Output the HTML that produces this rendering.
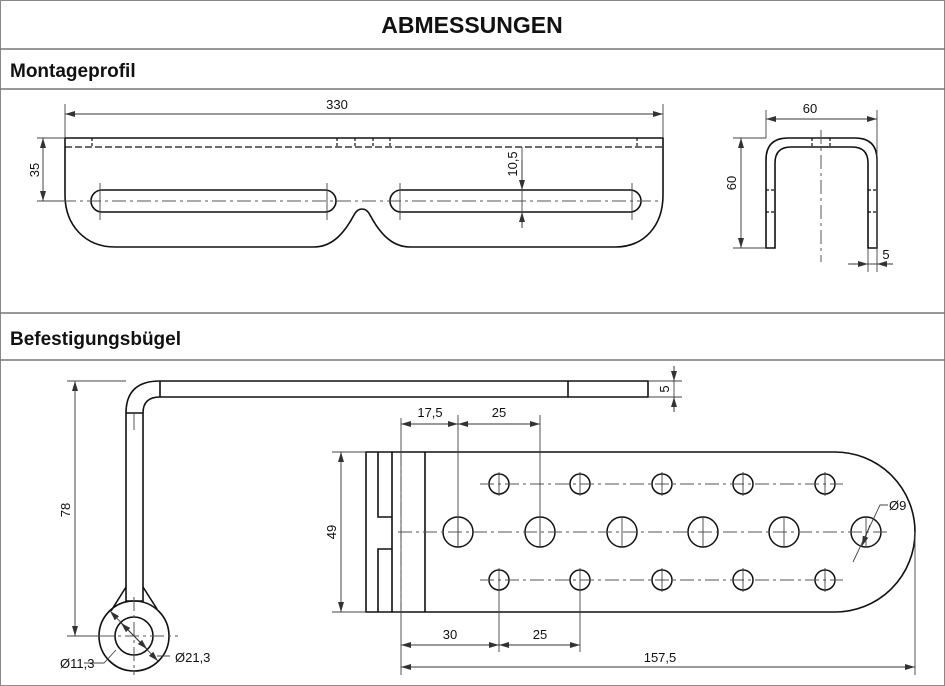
<!DOCTYPE html>
<html><head><meta charset="utf-8"><style>
html,body{margin:0;padding:0;background:#fff}
svg{display:block}
text{font-family:"Liberation Sans",sans-serif}
</style></head><body>
<svg width="945" height="686" viewBox="0 0 945 686" xmlns="http://www.w3.org/2000/svg">
<defs>
<marker id="a" viewBox="0 0 10 6" refX="10" refY="3" markerWidth="10" markerHeight="6" orient="auto-start-reverse" markerUnits="userSpaceOnUse"><path d="M0,0L10,3L0,6z" fill="#333"/></marker>
</defs>
<rect x="0.5" y="0.5" width="944" height="685" fill="#fff" stroke="#888"/>
<g stroke="#777" stroke-width="1.5"><line x1="0" y1="49" x2="945" y2="49"/><line x1="0" y1="89" x2="945" y2="89"/><line x1="0" y1="313" x2="945" y2="313"/><line x1="0" y1="360" x2="945" y2="360"/></g>
<text x="472" y="33" font-size="23" font-weight="bold" text-anchor="middle" fill="#111">ABMESSUNGEN</text>
<text x="10" y="77" font-size="19" font-weight="bold" fill="#111">Montageprofil</text>
<text x="10" y="345" font-size="19" font-weight="bold" fill="#111">Befestigungsbügel</text>

<g fill="none" stroke="#111" stroke-width="1.6">
<!-- Montageprofil -->
<path d="M65,138 H663 V195 C663,225 645,247 615,247 H410 C390,247 378,230 370,215 C366,207 358,207 354,215 C346,230 334,247 314,247 H115 C85,247 65,225 65,195 Z"/>
<rect x="91" y="190" width="245" height="22" rx="11"/>
<rect x="390" y="190" width="251" height="22" rx="11"/>
<!-- U profile -->
<path d="M766,248 V160 Q766,138 788,138 H855 Q877,138 877,160 V248 H868 V163 Q868,147 852,147 H791 Q775,147 775,163 V248 Z"/>
<!-- bügel -->
<path d="M648,381 H160 Q126,381 126,413 V601 H143 V413 Q143,397 160,397 H648 Z"/>
<line x1="160" y1="381" x2="160" y2="397"/><line x1="126" y1="413" x2="143" y2="413"/><line x1="568" y1="381" x2="568" y2="397"/>
<path d="M126,587 L111,611 M143,587 L157,609"/>
<circle cx="134" cy="636" r="35"/><circle cx="134" cy="636" r="19"/>
<!-- plate -->
<path d="M366,452 H835 A80,80 0 0 1 835,612 H366 Z"/>
<path d="M378,452 V517 H392 M378,612 V549 H392 M392,452 V612 M425,452 V612"/>
<g stroke-width="1.5">
<circle cx="458" cy="532" r="15"/><circle cx="540" cy="532" r="15"/><circle cx="622" cy="532" r="15"/><circle cx="703" cy="532" r="15"/><circle cx="784" cy="532" r="15"/><circle cx="866" cy="532" r="15"/>
<circle cx="499" cy="484" r="10"/><circle cx="580" cy="484" r="10"/><circle cx="662" cy="484" r="10"/><circle cx="743" cy="484" r="10"/><circle cx="825" cy="484" r="10"/>
<circle cx="499" cy="580" r="10"/><circle cx="580" cy="580" r="10"/><circle cx="662" cy="580" r="10"/><circle cx="743" cy="580" r="10"/><circle cx="825" cy="580" r="10"/>
</g>
</g>

<!-- dashed/hidden lines -->
<g stroke="#111" stroke-width="1.2" fill="none" stroke-dasharray="7,3">
<line x1="65" y1="147" x2="663" y2="147"/>
<path d="M92,138V147M337,138V147M355,138V147M373,138V147M390,138V147M637,138V147" stroke-dasharray="3,2"/>
<path d="M812,138V147M830,138V147M766,190H775M766,212H775M868,190H877M868,212H877" stroke-dasharray="3,2"/>
</g>
<!-- centerlines -->
<g stroke="#555" stroke-width="1" fill="none" stroke-dasharray="14,4,3,4">
<line x1="62" y1="201" x2="660" y2="201"/>
<line x1="821" y1="130" x2="821" y2="262"/>
<line x1="398" y1="532" x2="890" y2="532"/>
<line x1="480" y1="484" x2="843" y2="484"/>
<line x1="480" y1="580" x2="843" y2="580"/>
<line x1="401" y1="452" x2="401" y2="612"/>
<line x1="134" y1="597" x2="134" y2="675"/>
<line x1="100" y1="636" x2="178" y2="636"/>
</g>
<!-- thin lines -->
<g stroke="#444" stroke-width="0.9" fill="none">
<path d="M65,104V138M663,104V138M37,138H65M37,201H65M100,183V220M327,183V220M400,183V220M632,183V220"/>
<path d="M766,110V138M877,110V272M733,138H766M733,248H766M868,248V272"/>
<path d="M67,381H126M67,636H100M648,381H682M648,397H682"/>
<path d="M332,452H366M332,612H366M401,418V675M458,415V548M540,415V548M499,590V652M580,590V652M915,532V675"/>
<path d="M458,517V547M540,517V547M622,517V547M703,517V547M784,517V547M866,517V547"/>
<path d="M499,472V496M580,472V496M662,472V496M743,472V496M825,472V496M499,568V592M580,568V592M662,568V592M743,568V592M825,568V592"/>
<path d="M134,413V430"/>
<path d="M848,264H893M674,366V412M522,147V228"/>
<path d="M853,562L880,505H888"/>
<path d="M84,663H104L116,650M157,656L170,656"/>
</g>
<g stroke="#333" stroke-width="0.9" fill="none" marker-start="url(#a)" marker-end="url(#a)">
<line x1="65" y1="114" x2="663" y2="114"/>
<line x1="43" y1="138" x2="43" y2="201"/>
<line x1="766" y1="119" x2="877" y2="119"/>
<line x1="741" y1="138" x2="741" y2="248"/>
<line x1="75" y1="381" x2="75" y2="636"/>
<line x1="341" y1="452" x2="341" y2="612"/>
<line x1="401" y1="424" x2="458" y2="424"/>
<line x1="458" y1="424" x2="540" y2="424"/>
<line x1="401" y1="645" x2="499" y2="645"/>
<line x1="499" y1="645" x2="580" y2="645"/>
<line x1="401" y1="667" x2="915" y2="667"/>
<line x1="110" y1="611" x2="158" y2="661"/>
<line x1="121" y1="623" x2="147" y2="649"/>
</g>
<g stroke="#333" stroke-width="0.9" fill="none" marker-end="url(#a)">
<line x1="522" y1="160" x2="522" y2="190"/>
<line x1="522" y1="228" x2="522" y2="212"/>
<line x1="850" y1="264" x2="868" y2="264"/>
<line x1="893" y1="264" x2="877" y2="264"/>
<line x1="674" y1="366" x2="674" y2="381"/>
<line x1="674" y1="412" x2="674" y2="397"/>
<line x1="870" y1="525" x2="862" y2="546"/>
</g>
<!-- labels -->
<g font-size="13" fill="#111">
<text x="337" y="109" text-anchor="middle">330</text>
<text transform="translate(39,170) rotate(-90)" text-anchor="middle">35</text>
<text transform="translate(517,164) rotate(-90)" text-anchor="middle">10,5</text>
<text x="810" y="113" text-anchor="middle">60</text>
<text transform="translate(736,183) rotate(-90)" text-anchor="middle">60</text>
<text x="886" y="259" text-anchor="middle">5</text>
<text transform="translate(669,389) rotate(-90)" text-anchor="middle">5</text>
<text transform="translate(70,510) rotate(-90)" text-anchor="middle">78</text>
<text transform="translate(336,532) rotate(-90)" text-anchor="middle">49</text>
<text x="430" y="417" text-anchor="middle">17,5</text>
<text x="499" y="417" text-anchor="middle">25</text>
<text x="450" y="639" text-anchor="middle">30</text>
<text x="540" y="639" text-anchor="middle">25</text>
<text x="660" y="662" text-anchor="middle">157,5</text>
<text x="889" y="510">Ø9</text>
<text x="60" y="668">Ø11,3</text>
<text x="175" y="662">Ø21,3</text>
</g>
</svg>
</body></html>
